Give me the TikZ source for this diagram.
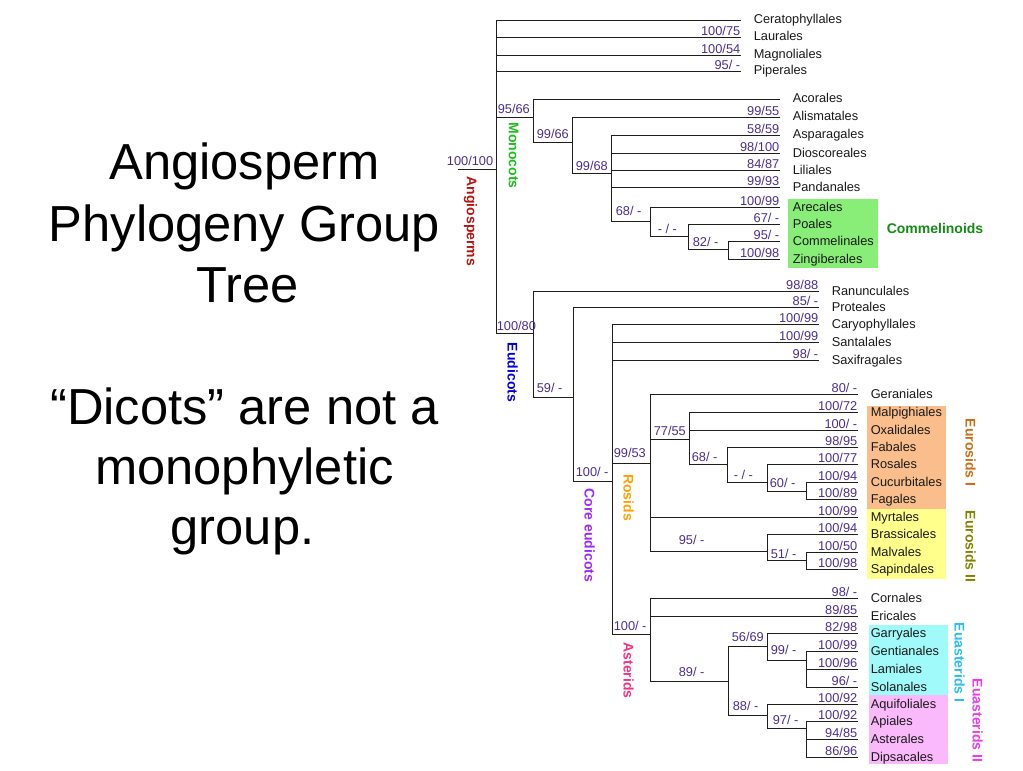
\documentclass[tikz,border=0pt]{standalone}
\usepackage{fontspec}
\setmainfont{Liberation Sans}
\usetikzlibrary{calc}
\definecolor{supc}{RGB}{75,45,145}
\definecolor{linec}{RGB}{30,30,30}
\definecolor{labc}{RGB}{25,25,25}
\definecolor{angc}{RGB}{180,20,20}
\definecolor{monc}{RGB}{30,190,30}
\definecolor{eudc}{RGB}{0,0,220}
\definecolor{corec}{RGB}{160,40,240}
\definecolor{rosc}{RGB}{255,160,0}
\definecolor{astc}{RGB}{240,50,130}
\definecolor{commc}{RGB}{20,140,20}
\definecolor{eurIc}{RGB}{205,110,20}
\definecolor{eurIIc}{RGB}{130,130,0}
\definecolor{euaIc}{RGB}{40,190,240}
\definecolor{euaIIc}{RGB}{235,60,235}
\definecolor{commbg}{RGB}{136,238,120}
\definecolor{eurIbg}{RGB}{250,190,140}
\definecolor{eurIIbg}{RGB}{255,255,140}
\definecolor{euaIbg}{RGB}{160,250,250}
\definecolor{euaIIbg}{RGB}{250,185,250}
\tikzset{
  branch/.style={draw=linec, line width=0.8pt},
  suplab/.style={inner sep=0pt, text=supc, font=\fontsize{9.6}{11}\selectfont},
  leaflab/.style={inner sep=0pt, text=labc, font=\fontsize{9.6}{11}\selectfont},
  grouplab/.style={inner sep=0pt, font=\fontsize{10.5}{12}\selectfont\bfseries},
  vlab/.style={grouplab, rotate=-90},
  titletext/.style={inner sep=0pt, text=black, font=\fontsize{38}{45}\selectfont}
}
\newcommand{\leafitem}[5]{%
  \coordinate (#1) at (#3,#4);
  \draw[branch] (#2) |- (#1);
  \node[suplab, anchor=base east] (#1-sup) at ($(#1)+(0,-2)$) {#5};
  \node[leaflab, anchor=base west] (#1-lab) at ($(#1)+(13,3.5)$) {#1};
}
\newcommand{\cladeitem}[2]{%
  \draw[branch] (#2) |- (#1);
}
\begin{document}
\begin{tikzpicture}[x=0.75pt,y=-0.75pt]
\useasboundingbox (0,0) rectangle (1023,770);
\begin{scope}[shift={(0.5,0.5)}]

% ---------- title texts ----------
\node[titletext, anchor=base] (t1) at (244,179) {Angiosperm};
\node[titletext, anchor=base] (t2) at (244,241) {Phylogeny Group};
\node[titletext, anchor=base] (t3) at (247,302) {Tree};
\node[titletext, anchor=base] (t4) at (244,424) {“Dicots” are not a};
\node[titletext, anchor=base] (t5) at (244,484) {monophyletic};
\node[titletext, anchor=base] (t6) at (242,544) {group.};

% ---------- coloured boxes ----------
\fill[commbg] (787,198) rectangle (877,267);
\fill[eurIbg] (866,405) rectangle (945,508);
\fill[eurIIbg] (866,508) rectangle (945,578);
\fill[euaIbg] (868,624) rectangle (947,694);
\fill[euaIIbg] (868,694) rectangle (947,763);

% ---------- internal nodes ----------
\coordinate (rootstem) at (457,169);
\coordinate (root) at (496,169);
\coordinate (mono) at (533,117);
\coordinate (m2) at (572,142);
\coordinate (m3) at (611,173);
\coordinate (m4) at (650,221);
\coordinate (m5) at (688,236);
\coordinate (m6) at (728,249);
\coordinate (eud) at (533,333);
\coordinate (e2) at (573,397);
\coordinate (core) at (612,481);
\coordinate (ros) at (650,463);
\coordinate (eu1) at (689,439);
\coordinate (r3) at (727,464);
\coordinate (r4) at (767,482);
\coordinate (r5) at (806,491);
\coordinate (r6) at (767,551);
\coordinate (r7) at (806,560);
\coordinate (ast) at (650,634);
\coordinate (a2) at (728,681);
\coordinate (a3) at (767,646);
\coordinate (a4) at (806,660);
\coordinate (a5) at (767,715);
\coordinate (a6) at (806,728);

\draw[branch] (rootstem) -- (root);
\cladeitem{mono}{root}
\cladeitem{eud}{root}
\cladeitem{m2}{mono}
\cladeitem{m3}{m2}
\cladeitem{m4}{m3}
\cladeitem{m5}{m4}
\cladeitem{m6}{m5}
\cladeitem{e2}{eud}
\cladeitem{core}{e2}
\cladeitem{ros}{core}
\cladeitem{ast}{core}
\cladeitem{eu1}{ros}
\cladeitem{r6}{ros}
\cladeitem{r3}{eu1}
\cladeitem{r4}{r3}
\cladeitem{r5}{r4}
\cladeitem{r7}{r6}
\cladeitem{a2}{ast}
\cladeitem{a3}{a2}
\cladeitem{a5}{a2}
\cladeitem{a4}{a3}
\cladeitem{a6}{a5}

% ---------- leaves ----------
\leafitem{Ceratophyllales}{root}{740}{20}{}
\leafitem{Laurales}{root}{740}{37}{100/75}
\leafitem{Magnoliales}{root}{740}{55}{100/54}
\leafitem{Piperales}{root}{740}{71}{95/ -}

\leafitem{Acorales}{mono}{779}{99}{}
\leafitem{Alismatales}{m2}{779}{117}{99/55}
\leafitem{Asparagales}{m3}{779}{135}{58/59}
\leafitem{Dioscoreales}{m3}{779}{153}{98/100}
\leafitem{Liliales}{m3}{779}{170}{84/87}
\leafitem{Pandanales}{m3}{779}{187}{99/93}
\leafitem{Arecales}{m4}{779}{207}{100/99}
\leafitem{Poales}{m5}{779}{224}{67/ -}
\leafitem{Commelinales}{m6}{779}{241}{95/ -}
\leafitem{Zingiberales}{m6}{779}{259}{100/98}

\leafitem{Ranunculales}{eud}{818}{291}{98/88}
\leafitem{Proteales}{e2}{818}{307}{85/ -}
\leafitem{Caryophyllales}{core}{818}{324}{100/99}
\leafitem{Santalales}{core}{818}{342}{100/99}
\leafitem{Saxifragales}{core}{818}{360}{98/ -}

\leafitem{Geraniales}{ros}{857}{394}{80/ -}
\leafitem{Malpighiales}{eu1}{857}{412}{100/72}
\leafitem{Oxalidales}{eu1}{857}{430}{100/ -}
\leafitem{Fabales}{r3}{857}{447}{98/95}
\leafitem{Rosales}{r4}{857}{464}{100/77}
\leafitem{Cucurbitales}{r5}{857}{482}{100/94}
\leafitem{Fagales}{r5}{857}{499}{100/89}
\leafitem{Myrtales}{ros}{857}{517}{100/99}
\leafitem{Brassicales}{r6}{857}{534}{100/94}
\leafitem{Malvales}{r7}{857}{552}{100/50}
\leafitem{Sapindales}{r7}{857}{569}{100/98}

\leafitem{Cornales}{ast}{857}{598}{98/ -}
\leafitem{Ericales}{ast}{857}{616}{89/85}
\leafitem{Garryales}{a3}{857}{633}{82/98}
\leafitem{Gentianales}{a4}{857}{651}{100/99}
\leafitem{Lamiales}{a4}{857}{669}{100/96}
\leafitem{Solanales}{a4}{857}{687}{96/ -}
\leafitem{Aquifoliales}{a5}{857}{704}{100/92}
\leafitem{Apiales}{a6}{857}{721}{100/92}
\leafitem{Asterales}{a6}{857}{739}{94/85}
\leafitem{Dipsacales}{a6}{857}{757}{86/96}

% ---------- internal support values ----------
\node[suplab, anchor=base east] (s-root) at (493,165) {100/100};
\node[suplab, anchor=base west] (s-mono) at (497,113) {95/66};
\node[suplab, anchor=base west] (s-m2) at (536,138) {99/66};
\node[suplab, anchor=base west] (s-m3) at (575,170.5) {99/68};
\node[suplab, anchor=base west] (s-m4) at (615,215) {68/ -};
\node[suplab, anchor=base west] (s-m5) at (657,233) {- / -};
\node[suplab, anchor=base west] (s-m6) at (692,246) {82/ -};
\node[suplab, anchor=base west] (s-eud) at (496,330) {100/80};
\node[suplab, anchor=base west] (s-e2) at (536,392) {59/ -};
\node[suplab, anchor=base west] (s-core) at (575,476) {100/ -};
\node[suplab, anchor=base west] (s-ros) at (613,457) {99/53};
\node[suplab, anchor=base west] (s-eu1) at (653,435) {77/55};
\node[suplab, anchor=base west] (s-r3) at (691,461) {68/ -};
\node[suplab, anchor=base west] (s-r4) at (733,479) {- / -};
\node[suplab, anchor=base west] (s-r5) at (769,487) {60/ -};
\node[suplab, anchor=base west] (s-r6) at (678,544) {95/ -};
\node[suplab, anchor=base west] (s-r7) at (770,558) {51/ -};
\node[suplab, anchor=base west] (s-ast) at (613,630) {100/ -};
\node[suplab, anchor=base west] (s-a2) at (678,676) {89/ -};
\node[suplab, anchor=base west] (s-a3) at (731,641) {56/69};
\node[suplab, anchor=base west] (s-a4) at (770,654) {99/ -};
\node[suplab, anchor=base west] (s-a5) at (732,710) {88/ -};
\node[suplab, anchor=base west] (s-a6) at (772,724) {97/ -};

% ---------- group labels ----------
\node[vlab, text=angc] (g-ang) at (470,221) {Angiosperms};
\node[vlab, text=monc] (g-mono) at (513,155) {Monocots};
\node[vlab, text=eudc] (g-eud) at (512,372) {Eudicots};
\node[vlab, text=corec] (g-core) at (589,535) {Core eudicots};
\node[vlab, text=rosc] (g-ros) at (628,497) {Rosids};
\node[vlab, text=astc] (g-ast) at (628,670) {Asterids};
\node[grouplab, text=commc, anchor=west] (g-comm) at (886,228) {Commelinoids};
\node[vlab, text=eurIc] (g-eurI) at (970,452) {Eurosids I};
\node[vlab, text=eurIIc] (g-eurII) at (970,546) {Eurosids II};
\node[vlab, text=euaIc] (g-euaI) at (959,662) {Euasterids I};
\node[vlab, text=euaIIc] (g-euaII) at (977,720) {Euasterids II};
\end{scope}
\end{tikzpicture}
\end{document}
